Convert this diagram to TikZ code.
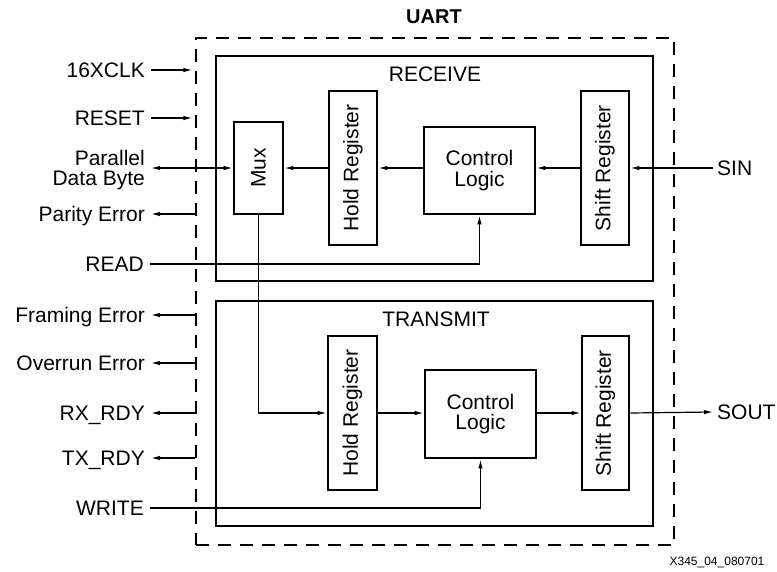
\documentclass[tikz,border=0pt]{standalone}
\usepackage{fontspec}
\setmainfont{Liberation Sans}
\usetikzlibrary{arrows.meta}
\begin{document}
\begin{tikzpicture}[x=1pt,y=-1pt,
  every node/.style={font=\fontsize{21}{20.5}\selectfont, inner sep=0pt},
  blk/.style={draw, line width=2.8pt},
  conn/.style={line width=1.2pt},
  tipstyle/.style={},
  arr/.style={conn, -{Latex[length=9pt,width=4.5pt]}},
  darr/.style={conn, {Latex[length=9pt,width=4.5pt]}-{Latex[length=9pt,width=4.5pt]}},
  lbl/.style={text height=15pt, text depth=0pt, inner xsep=6pt, anchor=east},
  rlbl/.style={text height=15pt, text depth=0pt, inner xsep=4pt, anchor=west},
  vtext/.style={rotate=90}
]
\useasboundingbox (0,0) rectangle (777,571);

% outer dashed UART box
\node[draw, line width=1.3pt, dash pattern=on 13pt off 9pt, minimum width=478, minimum height=507] (uart) at (435,291.5) {};
\node[font=\bfseries\fontsize{20}{20}\selectfont] (uarttitle) at (434,17) {UART};

% receive section
\node[blk, minimum width=437, minimum height=225] (rx) at (434.5,168.5) {};
\node (rxt) at (435,74) {RECEIVE};
\node[blk, minimum width=49, minimum height=92] (mux) at (258.5,168) {};
\node[vtext] (muxt) at (mux) {Mux};
\node[blk, minimum width=48, minimum height=154] (rhold) at (353,168) {};
\node[vtext] (rholdt) at (rhold) {Hold Register};
\node[blk, minimum width=111, minimum height=87, align=center] (rctl) at (479.5,170.5) {Control\\Logic};
\node[blk, minimum width=48, minimum height=154] (rshift) at (605,168) {};
\node[vtext] (rshiftt) at (rshift) {Shift Register};

% transmit section
\node[blk, minimum width=437, minimum height=225] (tx) at (434.5,413.5) {};
\node (txt) at (436,319) {TRANSMIT};
\node[blk, minimum width=49, minimum height=154] (thold) at (352.5,413) {};
\node[vtext] (tholdt) at (thold) {Hold Register};
\node[blk, minimum width=111, minimum height=88, align=center] (tctl) at (480.5,414) {Control\\Logic};
\node[blk, minimum width=47, minimum height=154] (tshift) at (605.5,413) {};
\node[vtext] (tshiftt) at (tshift) {Shift Register};

% external labels
\node[lbl] (lclk) at (151,70) {16XCLK};
\node[lbl] (lreset) at (151,118) {RESET};
\node[align=right, anchor=east, inner xsep=6pt, font=\fontsize{21}{19.5}\selectfont] (lpdb) at (151,170) {Parallel\\Data Byte};
\node[lbl] (lpe) at (151,214) {Parity Error};
\node[lbl] (lread) at (150,264) {READ};
\node[lbl] (lfe) at (151,315) {Framing Error};
\node[lbl] (loe) at (151,363) {Overrun Error};
\node[lbl] (lrx) at (151,413) {RX\_RDY};
\node[lbl] (ltx) at (151,458) {TX\_RDY};
\node[lbl] (lwr) at (150,508) {WRITE};
\node[rlbl] (sin) at (713,168) {SIN};
\node[rlbl] (sout) at (713,412) {SOUT};
\node[font=\fontsize{12}{12}\selectfont] (fig) at (717,562) {X345\_04\_080701};

% inputs
\draw[arr, shorten >=3pt] (lclk.east) -- (uart.west |- lclk.east);
\draw[arr, shorten >=3pt] (lreset.east) -- (uart.west |- lreset.east);
\draw[darr] (lpdb.east |- mux.west) -- (mux.west);
% outputs
\draw[arr] (uart.west |- lpe.east) -- (lpe.east);
\draw[arr] (uart.west |- lfe.east) -- (lfe.east);
\draw[arr] (uart.west |- loe.east) -- (loe.east);
\draw[arr] (uart.west |- lrx.east) -- (lrx.east);
\draw[arr] (uart.west |- ltx.east) -- (ltx.east);

% receive path
\draw[arr] (sin.west) -- (rshift.east);
\draw[arr] (rshift.west) -- (rctl.east |- rshift.west);
\draw[arr] (rctl.west |- rhold.east) -- (rhold.east);
\draw[arr] (rhold.west) -- (mux.east);
\draw[arr] (lread.east) -| (rctl.south);

% transmit path
\draw[arr] (mux.south) |- (thold.west);
\draw[arr] (thold.east) -- (tctl.west |- thold.east);
\draw[arr] (tctl.east |- tshift.west) -- (tshift.west);
\draw[arr] (tshift.east) -- (sout.west);
\draw[arr] (lwr.east) -| (tctl.south);
\end{tikzpicture}
\end{document}
